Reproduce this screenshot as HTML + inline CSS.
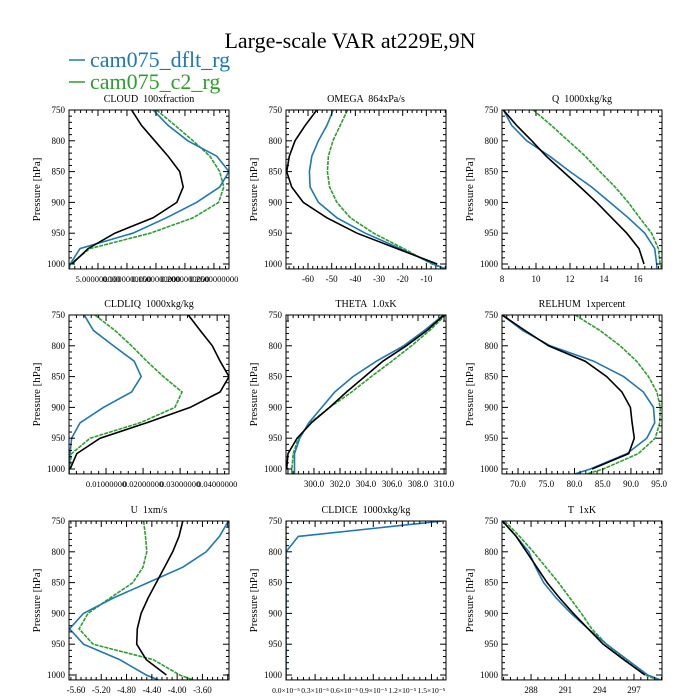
<!DOCTYPE html>
<html><head><meta charset="utf-8"><style>
html,body{margin:0;padding:0;background:#fff;}
svg{display:block;font-family:"Liberation Serif",serif;}
svg text{white-space:pre;}
</style></head><body>
<svg id="chart" width="700" height="700" viewBox="0 0 700 700" xmlns="http://www.w3.org/2000/svg">
<rect width="700" height="700" fill="#fff"/>
<text x="350" y="48" font-size="22" text-anchor="middle">Large-scale VAR at229E,9N</text>
<g>
<g><line x1="69" y1="60" x2="85" y2="60" stroke="#1f77b4" stroke-width="1.5"/><text x="90" y="67" font-size="22" fill="#1f77b4">cam075_dflt_rg</text></g>
<g><line x1="69" y1="82" x2="85" y2="82" stroke="#2ca02c" stroke-width="1.5"/><text x="90" y="89" font-size="22" fill="#2ca02c">cam075_c2_rg</text></g>
</g>
<g id="panels"></g>
</svg>
<script>
// pressure levels
const obsLevels = [750,775,800,825,850,875,900,925,950,975,1000];
const modelLevels = [750,775,800,825,850,875,900,925,950,975,1000,1008];
// CLOUD
const cloudObs = [0.108,0.125,0.148,0.171,0.191,0.197,0.186,0.145,0.079,0.033,0.005];
const cloudDflt = [0.145,0.171,0.205,0.255,0.276,0.26,0.22,0.168,0.11,0.019,0.002,0];
const cloudC2 = [0.151,0.183,0.214,0.243,0.26,0.267,0.258,0.214,0.14,0.036,0.002,0];
const cloudTicks = [0.05,0.10,0.15,0.20,0.25];
const cloudTickLabels = ["5.000000000","0.1000000000","0.1500000000","0.2000000000","0.2500000000"];
// OMEGA
const omegaObs = [-56.3,-61.2,-65.5,-67.9,-69,-66.9,-62,-52,-39.3,-22.4,-5.4];
const omegaDflt = [-49.3,-52,-55.6,-58.4,-59.4,-59.1,-55.6,-47.8,-35.8,-21,-6.9,-2];
const omegaC2 = [-43.3,-46.4,-49.5,-51.4,-51.8,-50.9,-47.8,-42.1,-32.3,-19.6,-7.6,-2];
const omegaTicks = [-60,-50,-40,-30,-20,-10];
const omegaTickLabels = ["-60","-50","-40","-30","-20","-10"];
// Q
const qObs = [8.08,8.86,9.75,10.6,11.6,12.6,13.57,14.45,15.34,16.06,16.35];
const qDflt = [8.08,8.57,9.45,10.8,12.0,13.27,14.35,15.43,16.4,16.98,17.1,17.1];
const qC2 = [9.84,10.9,11.9,12.9,13.76,14.65,15.43,16.1,16.8,17.2,17.3,17.4];
const qTicks = [8,10,12,14,16];
const qTickLabels = ["8","10","12","14","16"];
// CLDLIQ
const liqObs = [0.0322,0.0354,0.0387,0.0408,0.0432,0.0408,0.0327,0.021,0.0084,0.0021,0.0003];
const liqDflt = [0.0041,0.0066,0.012,0.0176,0.0195,0.0169,0.0093,0.003,0.0007,0.0003,0,0];
const liqC2 = [0.007,0.0124,0.0169,0.021,0.0255,0.0305,0.0286,0.0192,0.0057,0.0007,0.0001,0];
const liqTicks = [0.01,0.02,0.03,0.04];
const liqTickLabels = ["0.01000000","0.02000000","0.03000000","0.04000000"];
// THETA
const thetaObs = [310.0,308.7,307.1,305.3,303.9,302.5,301.2,299.8,298.7,298.0,297.9];
const thetaDflt = [309.95,308.5,306.9,304.8,303.0,301.6,300.6,299.6,298.9,298.5,298.5,298.5];
const thetaC2 = [310.13,308.9,307.5,305.98,304.4,302.9,301.2,299.7,298.8,298.4,298.3,298.3];
const thetaTicks = [300,302,304,306,308,310];
const thetaTickLabels = ["300.0","302.0","304.0","306.0","308.0","310.0"];
// RELHUM
const rhObs = [67.2,71.2,75.4,81.9,85.7,88.4,89.9,90.2,90.6,89.6,83.1];
const rhDflt = [67.2,70.8,75.7,83.4,88.7,92.2,94.0,94.2,92.8,89.3,82.8,80.1];
const rhC2 = [80.1,84.5,88.1,91.0,93.1,94.6,95.2,95.1,94.3,91.3,85.1,82.2];
const rhTicks = [70,75,80,85,90,95];
const rhTickLabels = ["70.0","75.0","80.0","85.0","90.0","95.0"];
// U
const uObs = [-3.91,-3.97,-4.07,-4.2,-4.33,-4.46,-4.57,-4.63,-4.64,-4.49,-4.17];
const uDflt = [-3.19,-3.33,-3.54,-3.91,-4.46,-5.01,-5.48,-5.7,-5.48,-4.91,-4.49,-4.3];
const uC2 = [-4.53,-4.5,-4.48,-4.54,-4.7,-5.06,-5.41,-5.55,-5.33,-4.38,-3.96,-3.75];
const uTicks = [-5.6,-5.2,-4.8,-4.4,-4.0,-3.6];
const uTickLabels = ["-5.60","-5.20","-4.80","-4.40","-4.00","-3.60"];
// CLDICE (x1e-5)
const iceObs = [];
const iceDflt = [1.62,0.127,0,0,0,0,0,0,0,0,0,0];
const iceC2 = [0,0,0,0,0,0,0,0,0,0,0,0];
const iceTicks = [0,0.3,0.6,0.9,1.2,1.5];
const iceTickLabels = ["0.0×10⁻⁵","0.3×10⁻⁵","0.6×10⁻⁵","0.9×10⁻⁵","1.2×10⁻⁵","1.5×10⁻⁵"];
// T
const tObs = [285.5,286.7,287.6,288.5,289.4,290.5,291.7,293.0,294.3,296.1,297.96];
const tDflt = [285.5,286.7,287.8,288.4,289.1,290.2,291.5,293.0,294.6,296.4,298.2,299.3];
const tC2 = [285.7,287.0,288.2,289.3,290.4,291.4,292.4,293.3,294.6,296.2,297.96,299.1];
const tTicks = [288,291,294,297];
const tTickLabels = ["288","291","294","297"];
const pTicks = [750,800,850,900,950,1000];

const NS = "http://www.w3.org/2000/svg";
const root = document.getElementById("panels");
function mk(tag, attrs, parent){const e=document.createElementNS(NS,tag);for(const k in attrs)e.setAttribute(k,attrs[k]);parent.appendChild(e);return e;}

const panels = [
 {name:"cloud",title:"CLOUD  100xfraction",x0:69,y0:110,xmin:0,xmax:0.276,obs:cloudObs,dflt:cloudDflt,c2:cloudC2,ticks:cloudTicks,labels:cloudTickLabels,fs:8.5},
 {name:"omega",title:"OMEGA  864xPa/s",x0:286,y0:110,xmin:-69.3,xmax:-1.7,obs:omegaObs,dflt:omegaDflt,c2:omegaC2,ticks:omegaTicks,labels:omegaTickLabels,fs:9},
 {name:"q",title:"Q  1000xkg/kg",x0:502,y0:110,xmin:8,xmax:17.41,obs:qObs,dflt:qDflt,c2:qC2,ticks:qTicks,labels:qTickLabels,fs:9},
 {name:"cldliq",title:"CLDLIQ  1000xkg/kg",x0:69,y0:315,xmin:0,xmax:0.0432,obs:liqObs,dflt:liqDflt,c2:liqC2,ticks:liqTicks,labels:liqTickLabels,fs:8.5},
 {name:"theta",title:"THETA  1.0xK",x0:286,y0:315,xmin:297.85,xmax:310.15,obs:thetaObs,dflt:thetaDflt,c2:thetaC2,ticks:thetaTicks,labels:thetaTickLabels,fs:9},
 {name:"relhum",title:"RELHUM  1xpercent",x0:502,y0:315,xmin:67.16,xmax:95.5,obs:rhObs,dflt:rhDflt,c2:rhC2,ticks:rhTicks,labels:rhTickLabels,fs:9},
 {name:"u",title:"U  1xm/s",x0:69,y0:521,xmin:-5.71,xmax:-3.18,obs:uObs,dflt:uDflt,c2:uC2,ticks:uTicks,labels:uTickLabels,fs:9},
 {name:"cldice",title:"CLDICE  1000xkg/kg",x0:286,y0:521,xmin:0,xmax:1.65,obs:iceObs,dflt:iceDflt,c2:iceC2,ticks:iceTicks,labels:iceTickLabels,fs:7.5},
 {name:"t",title:"T  1xK",x0:502,y0:521,xmin:285.46,xmax:299.45,obs:tObs,dflt:tDflt,c2:tC2,ticks:tTicks,labels:tTickLabels,fs:9}
];
const W=160, PY=154;
panels.forEach(p=>{
 const g=mk("g",{},root);
 
 
 const xs=v=>p.x0+(v-p.xmin)/(p.xmax-p.xmin)*W;
 const ys=v=>p.y0+(v-750)/250*PY;
 const yb=ys(1008), H=yb-p.y0;
 const t=mk("text",{x:p.x0+W/2,y:p.y0-8,"font-size":10,"text-anchor":"middle"},g);t.textContent=p.title;
 
 
 const yl=mk("text",{transform:`translate(${p.x0-29},${p.y0+H/2}) rotate(-90)`,"font-size":11,"text-anchor":"middle"},g);yl.textContent="Pressure [hPa]";
 
 
 const clip="c"+p.name;
 const cp=mk("clipPath",{id:clip},g);mk("rect",{x:p.x0,y:p.y0,width:W,height:H},cp);
 const series=[[p.c2,modelLevels,"#2ca02c","4 1","c2"],[p.dflt,modelLevels,"#1f77b4","","dflt"],[p.obs,obsLevels,"#000","","obs"]];
 series.forEach(s=>{
  if(!s[0].length)return;
  const d=s[0].map((v,i)=>(i?"L":"M")+xs(v).toFixed(1)+","+ys(s[1][i]).toFixed(1)).join("");
  const path=mk("path",{d:d,fill:"none",stroke:s[2],"stroke-width":1.6,"stroke-dasharray":s[3],"clip-path":`url(#${clip})`},g);
  
  
 });
 const fr=mk("rect",{x:p.x0,y:p.y0,width:W,height:H,fill:"none",stroke:"#000","stroke-width":1},g);
 
 
 for(let v=750;v<=1008;v+=10){const y=ys(v),L=(v%50===0)?6:3;
  mk("line",{x1:p.x0,y1:y,x2:p.x0+L,y2:y,stroke:"#000"},g);mk("line",{x1:p.x0+W,y1:y,x2:p.x0+W-L,y2:y,stroke:"#000"},g);}
 pTicks.forEach(v=>{const tl=mk("text",{x:p.x0-4,y:ys(v)+3,"font-size":9,"text-anchor":"end"},g);tl.textContent=v;
  
  });
 const step=p.ticks[1]-p.ticks[0], ms=step/5;
 for(let k=-60;k<=60;k++){const v=p.ticks[0]+k*ms;const x=xs(v);if(x<p.x0-0.1||x>p.x0+W+0.1)continue;
  const L=(Math.abs(k%5)===0)?6:3;
  mk("line",{x1:x,y1:yb,x2:x,y2:yb-L,stroke:"#000"},g);mk("line",{x1:x,y1:p.y0,x2:x,y2:p.y0+L,stroke:"#000"},g);}
 p.ticks.forEach((v,i)=>{const tl=mk("text",{x:xs(v),y:yb+13,"font-size":p.fs,"text-anchor":"middle"},g);tl.textContent=p.labels[i];
  
  });
});
</script>
</body></html>
